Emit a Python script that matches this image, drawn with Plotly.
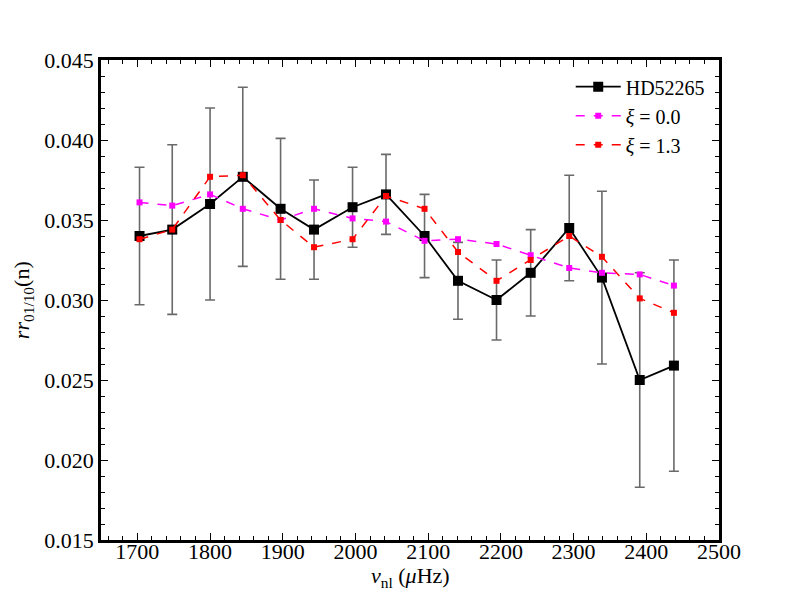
import plotly.graph_objects as go

# frequencies (muHz)
freq = [1703, 1748, 1800, 1845, 1897, 1943, 1996, 2042, 2095, 2141, 2194, 2241, 2294, 2339, 2391, 2438]

# observed ratios HD52265 with errors
obs = [0.0340, 0.0344, 0.0360, 0.0377, 0.0357, 0.0344, 0.0358, 0.0366,
       0.0340, 0.0312, 0.0300, 0.0317, 0.0345, 0.0314, 0.0250, 0.0259]
obs_err = [0.0043, 0.0053, 0.0060, 0.0056, 0.0044, 0.0031, 0.0025, 0.0025,
           0.0026, 0.0024, 0.0025, 0.0027, 0.0033, 0.0054, 0.0067, 0.0066]

# models
xi_00 = [0.0361, 0.0359, 0.0366, 0.0357, 0.0350, 0.0357, 0.0351, 0.0349,
         0.0337, 0.0338, 0.0335, 0.0328, 0.0320, 0.0317, 0.0316, 0.0309]
xi_13 = [0.0338, 0.0344, 0.0377, 0.0378, 0.0350, 0.0333, 0.0338, 0.0365,
         0.0357, 0.0330, 0.0312, 0.0325, 0.0340, 0.0327, 0.0301, 0.0292]

FONT = "'Times New Roman', 'Liberation Serif', serif"

fig = go.Figure()

fig.add_trace(go.Scatter(
    x=freq, y=obs, mode="lines+markers", name="HD52265",
    line=dict(color="black", width=1.8),
    marker=dict(symbol="square", size=10, color="black"),
    error_y=dict(type="data", array=obs_err, visible=True,
                 color="#6a6a6a", thickness=1.6, width=5),
))
fig.add_trace(go.Scatter(
    x=freq, y=xi_00, mode="lines+markers", name="<i>ξ</i> = 0.0",
    line=dict(color="magenta", width=1.5, dash="dash"),
    marker=dict(symbol="square", size=6, color="magenta"),
))
fig.add_trace(go.Scatter(
    x=freq, y=xi_13, mode="lines+markers", name="<i>ξ</i> = 1.3",
    line=dict(color="red", width=1.5, dash="dash"),
    marker=dict(symbol="square", size=6, color="red"),
))

fig.update_xaxes(
    range=[1650, 2500], dtick=100, tick0=1700, automargin=False,
    ticks="inside", ticklen=7, tickwidth=1.2, tickcolor="black",
    showline=True, linewidth=2.5, linecolor="black", mirror="ticks",
    showgrid=False, zeroline=False, ticklabelstandoff=-10,
    minor=dict(dtick=20, ticks="inside", ticklen=4, tickcolor="black", showgrid=False),
    tickfont=dict(family=FONT, size=22, color="black"),
)
fig.update_yaxes(
    range=[0.015, 0.045], dtick=0.005, tickformat=".3f", automargin=False,
    ticks="inside", ticklen=7, tickwidth=1.2, tickcolor="black",
    showline=True, linewidth=2.5, linecolor="black", mirror="ticks",
    showgrid=False, zeroline=False,
    minor=dict(dtick=0.001, ticks="inside", ticklen=4, tickcolor="black", showgrid=False),
    tickfont=dict(family=FONT, size=22, color="black"),
)

# axis titles placed as annotations
fig.add_annotation(text="<i>ν</i><sub>nl</sub> (<i>μ</i>Hz)", xref="paper", yref="paper",
                   x=0.5, y=-0.077, xanchor="center", yanchor="middle", showarrow=False,
                   font=dict(family=FONT, size=22, color="black"))
fig.add_annotation(text="<i>rr</i><sub>01/10</sub>(n)", xref="paper", yref="paper",
                   x=-0.126, y=0.5, xanchor="center", yanchor="middle", showarrow=False,
                   textangle=-90, font=dict(family=FONT, size=22, color="black"))

fig.update_layout(
    width=792, height=592,
    margin=dict(l=93, r=81, t=52, b=60),
    paper_bgcolor="white", plot_bgcolor="white",
    font=dict(family=FONT, color="black"),
    legend=dict(x=0.985, y=0.985, xanchor="right", yanchor="top",
                bgcolor="rgba(255,255,255,0)", borderwidth=0,
                font=dict(family=FONT, size=20, color="black"),
                itemwidth=45, tracegroupgap=8),
)

fig.write_html("out.html")
